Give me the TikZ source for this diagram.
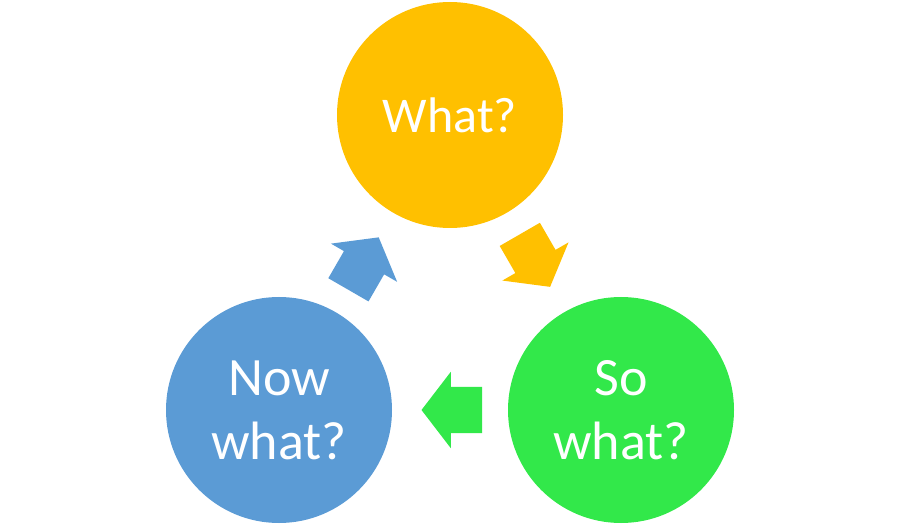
\documentclass[tikz,border=0pt]{standalone}
\usepackage{fontspec}
\setmainfont{Carlito}
\usetikzlibrary{shapes.arrows}
\definecolor{whatcol}{HTML}{FFC000}
\definecolor{socol}{HTML}{32E84A}
\definecolor{nowcol}{HTML}{5B9BD5}
\tikzset{
  stage/.style={circle, minimum size=226pt, inner sep=0pt, text=white, align=center,
    font=\fontsize{54}{64}\selectfont},
  turn/.style={single arrow, draw=none, anchor=tail, inner xsep=0pt, inner ysep=23pt,
    minimum height=60.6pt, single arrow head extend=15pt, single arrow tip angle=105}
}
\begin{document}
\begin{tikzpicture}[x=1pt,y=1pt]
\useasboundingbox (0,0) rectangle (899,525);
\node[stage, fill=whatcol, font=\fontsize{50}{60}\selectfont] (what) at (450,410) {What?};
\node[stage, fill=socol] (so) at (621,115) {So\\what?};
\node[stage, fill=nowcol] (now) at (279,115) {Now\\what?};

\node[turn, fill=whatcol, rotate=-60] (a1) at (519.7,290.8) {};
\node[turn, fill=socol, rotate=180] (a2) at (482.3,115) {};
\node[turn, fill=nowcol, rotate=60] (a3) at (348.3,235) {};
\end{tikzpicture}
\end{document}
